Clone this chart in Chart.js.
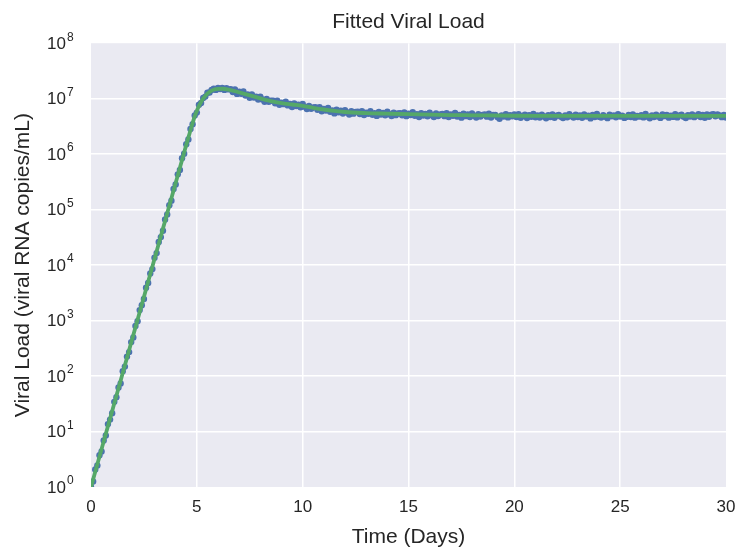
<!DOCTYPE html>
<html>
<head>
<meta charset="utf-8">
<script src="https://cdn.jsdelivr.net/npm/chart.js@4.4.1/dist/chart.umd.min.js"></script>
<style>
  html, body { margin: 0; padding: 0; background: #ffffff; }
  #c { display: block; }
</style>
</head>
<body>
<canvas id="c" width="736" height="548"></canvas>
<script>
// ---- Data ----
const chartTitle = 'Fitted Viral Load';
const xAxisTitle = 'Time (Days)';
const yAxisTitle = 'Viral Load (viral RNA copies/mL)';

const xTickValues = [0, 5, 10, 15, 20, 25, 30];
const yTickValues = [1, 10, 100, 1e3, 1e4, 1e5, 1e6, 1e7, 1e8];
const yTickExponents = ['0', '1', '2', '3', '4', '5', '6', '7', '8'];

// observed samples (days)
const sampleDays = [
  0.0, 0.1, 0.2, 0.3, 0.4, 0.5, 0.6, 0.7, 0.8, 0.9,
  1.0, 1.1, 1.2, 1.3, 1.4, 1.5, 1.6, 1.7, 1.8, 1.9,
  2.0, 2.1, 2.2, 2.3, 2.4, 2.5, 2.6, 2.7, 2.8, 2.9,
  3.0, 3.1, 3.2, 3.3, 3.4, 3.5, 3.6, 3.7, 3.8, 3.9,
  4.0, 4.1, 4.2, 4.3, 4.4, 4.5, 4.6, 4.7, 4.8, 4.9,
  5.0, 5.1, 5.2, 5.3, 5.4, 5.5, 5.6, 5.7, 5.8, 5.9,
  6.0, 6.1, 6.2, 6.3, 6.4, 6.5, 6.6, 6.7, 6.8, 6.9,
  7.0, 7.1, 7.2, 7.3, 7.4, 7.5, 7.6, 7.7, 7.8, 7.9,
  8.0, 8.1, 8.2, 8.3, 8.4, 8.5, 8.6, 8.7, 8.8, 8.9,
  9.0, 9.1, 9.2, 9.3, 9.4, 9.5, 9.6, 9.7, 9.8, 9.9,
  10.0, 10.1, 10.2, 10.3, 10.4, 10.5, 10.6, 10.7, 10.8, 10.9,
  11.0, 11.1, 11.2, 11.3, 11.4, 11.5, 11.6, 11.7, 11.8, 11.9,
  12.0, 12.1, 12.2, 12.3, 12.4, 12.5, 12.6, 12.7, 12.8, 12.9,
  13.0, 13.1, 13.2, 13.3, 13.4, 13.5, 13.6, 13.7, 13.8, 13.9,
  14.0, 14.1, 14.2, 14.3, 14.4, 14.5, 14.6, 14.7, 14.8, 14.9,
  15.0, 15.1, 15.2, 15.3, 15.4, 15.5, 15.6, 15.7, 15.8, 15.9,
  16.0, 16.1, 16.2, 16.3, 16.4, 16.5, 16.6, 16.7, 16.8, 16.9,
  17.0, 17.1, 17.2, 17.3, 17.4, 17.5, 17.6, 17.7, 17.8, 17.9,
  18.0, 18.1, 18.2, 18.3, 18.4, 18.5, 18.6, 18.7, 18.8, 18.9,
  19.0, 19.1, 19.2, 19.3, 19.4, 19.5, 19.6, 19.7, 19.8, 19.9,
  20.0, 20.1, 20.2, 20.3, 20.4, 20.5, 20.6, 20.7, 20.8, 20.9,
  21.0, 21.1, 21.2, 21.3, 21.4, 21.5, 21.6, 21.7, 21.8, 21.9,
  22.0, 22.1, 22.2, 22.3, 22.4, 22.5, 22.6, 22.7, 22.8, 22.9,
  23.0, 23.1, 23.2, 23.3, 23.4, 23.5, 23.6, 23.7, 23.8, 23.9,
  24.0, 24.1, 24.2, 24.3, 24.4, 24.5, 24.6, 24.7, 24.8, 24.9,
  25.0, 25.1, 25.2, 25.3, 25.4, 25.5, 25.6, 25.7, 25.8, 25.9,
  26.0, 26.1, 26.2, 26.3, 26.4, 26.5, 26.6, 26.7, 26.8, 26.9,
  27.0, 27.1, 27.2, 27.3, 27.4, 27.5, 27.6, 27.7, 27.8, 27.9,
  28.0, 28.1, 28.2, 28.3, 28.4, 28.5, 28.6, 28.7, 28.8, 28.9,
  29.0, 29.1, 29.2, 29.3, 29.4, 29.5, 29.6, 29.7, 29.8, 29.9,
  30.0
];

// observed viral load (copies/mL)
const sampleLoad = [
  1.0, 1.26, 2.07, 2.45, 3.74, 4.36, 6.9, 8.5, 13.6, 16.4,
  21.3, 34.3, 41.4, 62.2, 73.7, 122.6, 148, 224, 270, 409,
  495, 799, 972, 1546, 1886, 2452, 3910, 4760, 7075, 8476,
  13560, 16460, 26210, 31950, 41520, 66310, 81480, 119950, 145100, 236500,
  284800, 432100, 518400, 843500, 1017000, 1512000, 1.84e6, 2.85e6, 3.45e6, 4.98e6,
  5.61e6, 7.78e6, 8.36e6, 1.03e7, 1.09e7, 1.28e7, 1.29e7, 1.44e7, 1.52e7, 1.44e7,
  1.56e7, 1.49e7, 1.56e7, 1.44e7, 1.55e7, 1.47e7, 1.48e7, 1.32e7, 1.46e7, 1.22e7,
  1.33e7, 1.23e7, 1.35e7, 1.14e7, 1.19e7, 1.04e7, 1.19e7, 1.05e7, 1.09e7, 9.67e6,
  1.09e7, 9.70e6, 8.79e6, 9.91e6, 8.77e6, 9.20e6, 9.22e6, 8.29e6, 9.19e6, 7.77e6,
  8.49e6, 7.97e6, 8.86e6, 7.56e6, 8.02e6, 7.07e6, 8.23e6, 7.36e6, 7.82e6, 6.98e6,
  8.00e6, 7.14e6, 6.53e6, 7.41e6, 6.60e6, 6.98e6, 7.02e6, 6.32e6, 7.02e6, 5.95e6,
  6.51e6, 6.12e6, 6.80e6, 5.80e6, 6.16e6, 5.43e6, 6.33e6, 5.68e6, 6.04e6, 5.40e6,
  6.21e6, 5.62e6, 5.19e6, 5.96e6, 5.37e6, 5.74e6, 5.82e6, 5.30e6, 5.94e6, 5.09e6,
  5.61e6, 5.33e6, 5.96e6, 5.13e6, 5.50e6, 4.89e6, 5.75e6, 5.19e6, 5.55e6, 5.00e6,
  5.80e6, 5.25e6, 4.86e6, 5.60e6, 5.05e6, 5.42e6, 5.50e6, 5.02e6, 5.64e6, 4.84e6,
  5.36e6, 5.08e6, 5.70e6, 4.91e6, 5.26e6, 4.68e6, 5.50e6, 4.97e6, 5.32e6, 4.80e6,
  5.56e6, 5.04e6, 4.67e6, 5.39e6, 4.86e6, 5.21e6, 5.30e6, 4.84e6, 5.45e6, 4.67e6,
  5.17e6, 4.92e6, 5.52e6, 4.76e6, 5.10e6, 4.55e6, 5.34e6, 4.84e6, 5.18e6, 4.68e6,
  5.42e6, 4.91e6, 4.56e6, 5.26e6, 4.76e6, 5.10e6, 5.20e6, 4.74e6, 5.34e6, 4.59e6,
  5.09e6, 5.10e6, 4.65e6, 4.35e6, 5.00e6, 4.75e6, 5.24e6, 4.60e6, 5.04e6, 4.80e6,
  5.19e6, 4.67e6, 5.26e6, 4.53e6, 4.87e6, 5.12e6, 4.48e6, 5.02e6, 4.72e6, 5.31e6,
  4.62e6, 4.96e6, 4.57e6, 5.16e6, 4.76e6, 4.42e6, 5.06e6, 4.66e6, 5.20e6, 4.52e6,
  4.91e6, 5.11e6, 4.71e6, 4.47e6, 5.01e6, 4.62e6, 5.25e6, 4.81e6, 4.57e6, 5.16e6,
  4.66e6, 5.00e6, 4.51e6, 5.19e6, 4.75e6, 4.95e6, 4.41e6, 5.10e6, 4.66e6, 5.29e6,
  4.70e6, 4.56e6, 5.05e6, 4.70e6, 4.46e6, 5.15e6, 4.80e6, 5.00e6, 4.61e6, 5.24e6,
  4.75e6, 4.94e6, 4.50e6, 4.69e6, 5.09e6, 4.65e6, 5.18e6, 4.55e6, 4.89e6, 4.74e6,
  5.04e6, 4.60e6, 5.28e6, 4.74e6, 4.45e6, 4.99e6, 4.65e6, 5.13e6, 4.79e6, 4.50e6,
  5.18e6, 4.84e6, 5.09e6, 4.55e6, 4.94e6, 4.69e6, 5.23e6, 4.60e6, 4.99e6, 5.13e6,
  4.74e6, 4.49e6, 5.03e6, 4.78e6, 5.17e6, 4.64e6, 4.93e6, 5.27e6, 4.68e6, 5.08e6,
  4.54e6, 5.22e6, 4.73e6, 5.12e6, 5.27e6, 4.83e6, 5.17e6, 4.98e6, 4.64e6, 5.08e6,
  4.59e6
];

// fitted model curve
const fitDays = [0, 4.4, 4.5, 4.6, 4.7, 4.8, 4.9, 5.0, 5.1, 5.2, 5.3, 5.4, 5.5, 5.6, 5.7, 5.8, 5.9, 6.0, 6.2, 6.5,
  7.0, 7.5, 8.0, 8.5, 9.0, 9.5, 10, 10.5, 11, 11.5, 12, 13, 14, 15, 16, 17, 18, 20, 22, 25, 30];
const fitLoad = [1, 1.07e6, 1.47e6, 2.0e6, 2.69e6, 3.63e6, 4.79e6, 6.03e6, 7.41e6, 8.71e6, 1.0e7, 1.12e7, 1.23e7, 1.32e7, 1.40e7, 1.45e7, 1.48e7, 1.50e7, 1.51e7, 1.46e7,
  1.30e7, 1.15e7, 1.01e7, 9.02e6, 8.32e6, 7.85e6, 7.41e6, 6.84e6, 6.38e6, 6.03e6, 5.75e6, 5.50e6, 5.37e6, 5.25e6, 5.15e6, 5.07e6, 5.02e6, 4.92e6, 4.91e6, 4.90e6, 4.88e6];

// ---- Chart ----
const FONT = "'Liberation Sans', Arial, sans-serif";
const TEXT = '#262626';

const samplePoints = sampleDays.map((d, i) => ({ x: d, y: sampleLoad[i] }));
const fitPoints = fitDays.map((d, i) => ({ x: d, y: fitLoad[i] }));

const plotBg = {
  id: 'plotBg',
  beforeDraw(chart) {
    const { ctx, chartArea: a } = chart;
    ctx.save();
    ctx.fillStyle = '#EAEAF2';
    ctx.fillRect(a.left, a.top, a.right - a.left, a.bottom - a.top);
    ctx.restore();
  }
};

const powerLabels = {
  id: 'powerLabels',
  afterDraw(chart) {
    const { ctx } = chart;
    const ys = chart.scales.y;
    ctx.save();
    ctx.fillStyle = TEXT;
    yTickValues.forEach((v, i) => {
      const py = ys.getPixelForValue(v);
      ctx.font = '17px ' + FONT;
      ctx.textAlign = 'right';
      ctx.textBaseline = 'middle';
      ctx.fillText('10', 66, py + 1);
      ctx.font = '12px ' + FONT;
      ctx.textAlign = 'left';
      ctx.fillText(yTickExponents[i], 67, py - 6);
    });
    ctx.restore();
  }
};

const edgeHidden = (ctx, a, b) =>
  (ctx.tick && (ctx.tick.value === a || ctx.tick.value === b)) ? 'rgba(255,255,255,0)' : '#ffffff';

new Chart(document.getElementById('c'), {
  type: 'scatter',
  data: {
    datasets: [
      {
        label: 'fit',
        data: fitPoints,
        showLine: true,
        borderColor: '#55A868',
        borderWidth: 3.8,
        pointRadius: 0,
        cubicInterpolationMode: 'monotone',
        order: 0
      },
      {
        label: 'data',
        data: samplePoints,
        backgroundColor: '#4C72B0',
        borderWidth: 0,
        pointRadius: 3.2,
        order: 1
      }
    ]
  },
  options: {
    responsive: false,
    animation: false,
    layout: { padding: { left: 0, right: 0, top: 0, bottom: 0 } },
    plugins: {
      legend: { display: false },
      tooltip: { enabled: false },
      title: {
        display: true,
        text: chartTitle,
        color: TEXT,
        fullSize: false,
        font: { family: FONT, size: 21, weight: 'normal', lineHeight: 1.2 },
        padding: { top: 10, bottom: 8 }
      }
    },
    scales: {
      x: {
        type: 'linear',
        min: 0,
        max: 30,
        afterBuildTicks: s => { s.ticks = xTickValues.map(v => ({ value: v })); },
        afterFit: s => { s.height = 61; s.paddingLeft = 0; s.paddingRight = 10; },
        border: { display: false },
        grid: { color: c => edgeHidden(c, 0, 30), lineWidth: 1.5, drawTicks: false },
        ticks: { color: TEXT, font: { family: FONT, size: 17 }, padding: 10, maxRotation: 0 },
        title: {
          display: true, text: xAxisTitle, color: TEXT,
          font: { family: FONT, size: 21, lineHeight: 1.05 }, padding: { top: 0, bottom: 0 }
        }
      },
      y: {
        type: 'logarithmic',
        min: 1,
        max: 1e8,
        afterBuildTicks: s => { s.ticks = yTickValues.map(v => ({ value: v })); },
        afterFit: s => { s.width = 91; s.paddingTop = 0; s.paddingBottom = 0; },
        border: { display: false },
        grid: { color: c => edgeHidden(c, 1, 1e8), lineWidth: 1.5, drawTicks: false },
        ticks: { callback: () => '', padding: 0 },
        title: {
          display: true, text: yAxisTitle, color: TEXT,
          font: { family: FONT, size: 21, lineHeight: 1.05 }, padding: { top: 12, bottom: 0 }
        }
      }
    }
  },
  plugins: [plotBg, powerLabels]
});
</script>
</body>
</html>
